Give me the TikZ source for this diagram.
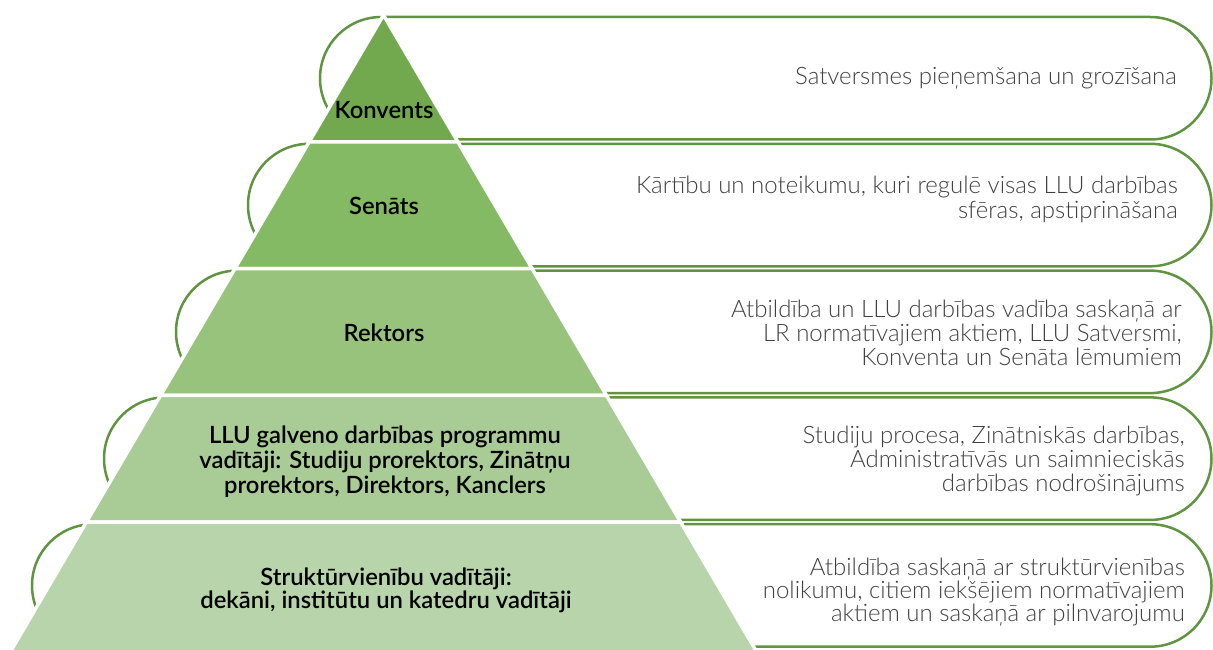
\documentclass[tikz,border=0pt]{standalone}
\usepackage{fontspec}
\setmainfont{Lato}
\newfontfamily\lightfont{Lato Light}
\newfontfamily\semifont{Lato Semibold}
\definecolor{outl}{HTML}{609440}
\definecolor{cA}{HTML}{72A94E}
\definecolor{cB}{HTML}{84BA63}
\definecolor{cC}{HTML}{98C37D}
\definecolor{cD}{HTML}{A9CC96}
\definecolor{cE}{HTML}{B7D4AA}
\definecolor{txt}{HTML}{404040}
\begin{document}
\begin{tikzpicture}[x=1pt,y=-1pt,
  bandbox/.style={draw=outl,fill=white,line width=2.5pt,rounded corners=61.25pt},
  seg/.style={draw=white,line width=3.5pt,line join=miter},
  ptext/.style={font=\semifont\fontsize{23.8}{25}\selectfont,text=black,align=center,inner sep=0pt},
  rtext/.style={font=\lightfont\fontsize{24}{23.8}\selectfont,text=txt,align=right,anchor=east,inner sep=0pt}]
\useasboundingbox (0,0) rectangle (1213,650);
% boxes
\foreach \i in {0,...,4}{
  \pgfmathsetmacro\L{320-72*\i}
  \pgfmathsetmacro\T{17+126.8*\i}
  \pgfmathsetmacro\B{\T+122.5}
  \draw[bandbox] (\L,\T) rectangle (1211.5,\B);
}
% pyramid segments
\def\ax{383.5}
\def\ay{15}
\def\sl{0.586}
\foreach \i/\c in {0/cA,1/cB,2/cC,3/cD}{
  \pgfmathsetmacro\ya{\ay+126.8*\i}
  \pgfmathsetmacro\yb{\ay+126.8*(\i+1)}
  \pgfmathsetmacro\wa{\sl*(\ya-\ay)}
  \pgfmathsetmacro\wb{\sl*(\yb-\ay)}
  \filldraw[seg,fill=\c] (\ax-\wa,\ya) -- (\ax+\wa,\ya) -- (\ax+\wb,\yb) -- (\ax-\wb,\yb) -- cycle;
}
\pgfmathsetmacro\ya{\ay+126.8*4}
\pgfmathsetmacro\wa{\sl*(\ya-\ay)}
\pgfmathsetmacro\wb{\sl*(656-\ay)}
\filldraw[seg,fill=cE] (\ax-\wa,\ya) -- (\ax+\wa,\ya) -- (\ax+\wb,656) -- (\ax-\wb,656) -- cycle;
% pyramid labels
\node[ptext] (p1) at (384,110) {Konvents};
\node[ptext] (p2) at (384,206) {Senāts};
\node[ptext] (p3) at (384,333) {Rektors};
\node[ptext] (p4) at (385,462) {LLU galveno darbības programmu\\vadītāji: Studiju prorektors, Zinātņu\\prorektors, Direktors, Kanclers};
\node[ptext,font=\semifont\fontsize{23.8}{23}\selectfont] (p5) at (386,590) {Struktūrvienību vadītāji:\\dekāni, institūtu un katedru vadītāji};
% right texts
\node[rtext] (r1) at (1177,78) {Satversmes pieņemšana un grozīšana};
\node[rtext,font=\lightfont\fontsize{24}{25}\selectfont] (r2) at (1178,199.5) {Kārtību un noteikumu, kuri regulē visas LLU darbības\\sfēras, apstiprināšana};
\node[rtext] (r3) at (1182,333) {Atbildība un LLU darbības vadība saskaņā ar\\LR normatīvajiem aktiem, LLU Satversmi,\\Konventa un Senāta lēmumiem};
\node[rtext] (r4) at (1185,461) {Studiju procesa, Zinātniskās darbības,\\Administratīvās un saimnieciskās\\darbības nodrošinājums};
\node[rtext,font=\lightfont\fontsize{24}{22.6}\selectfont] (r5) at (1185,592) {Atbildība saskaņā ar struktūrvienības\\nolikumu, citiem iekšējiem normatīvajiem\\aktiem un saskaņā ar pilnvarojumu};
\end{tikzpicture}
\end{document}
